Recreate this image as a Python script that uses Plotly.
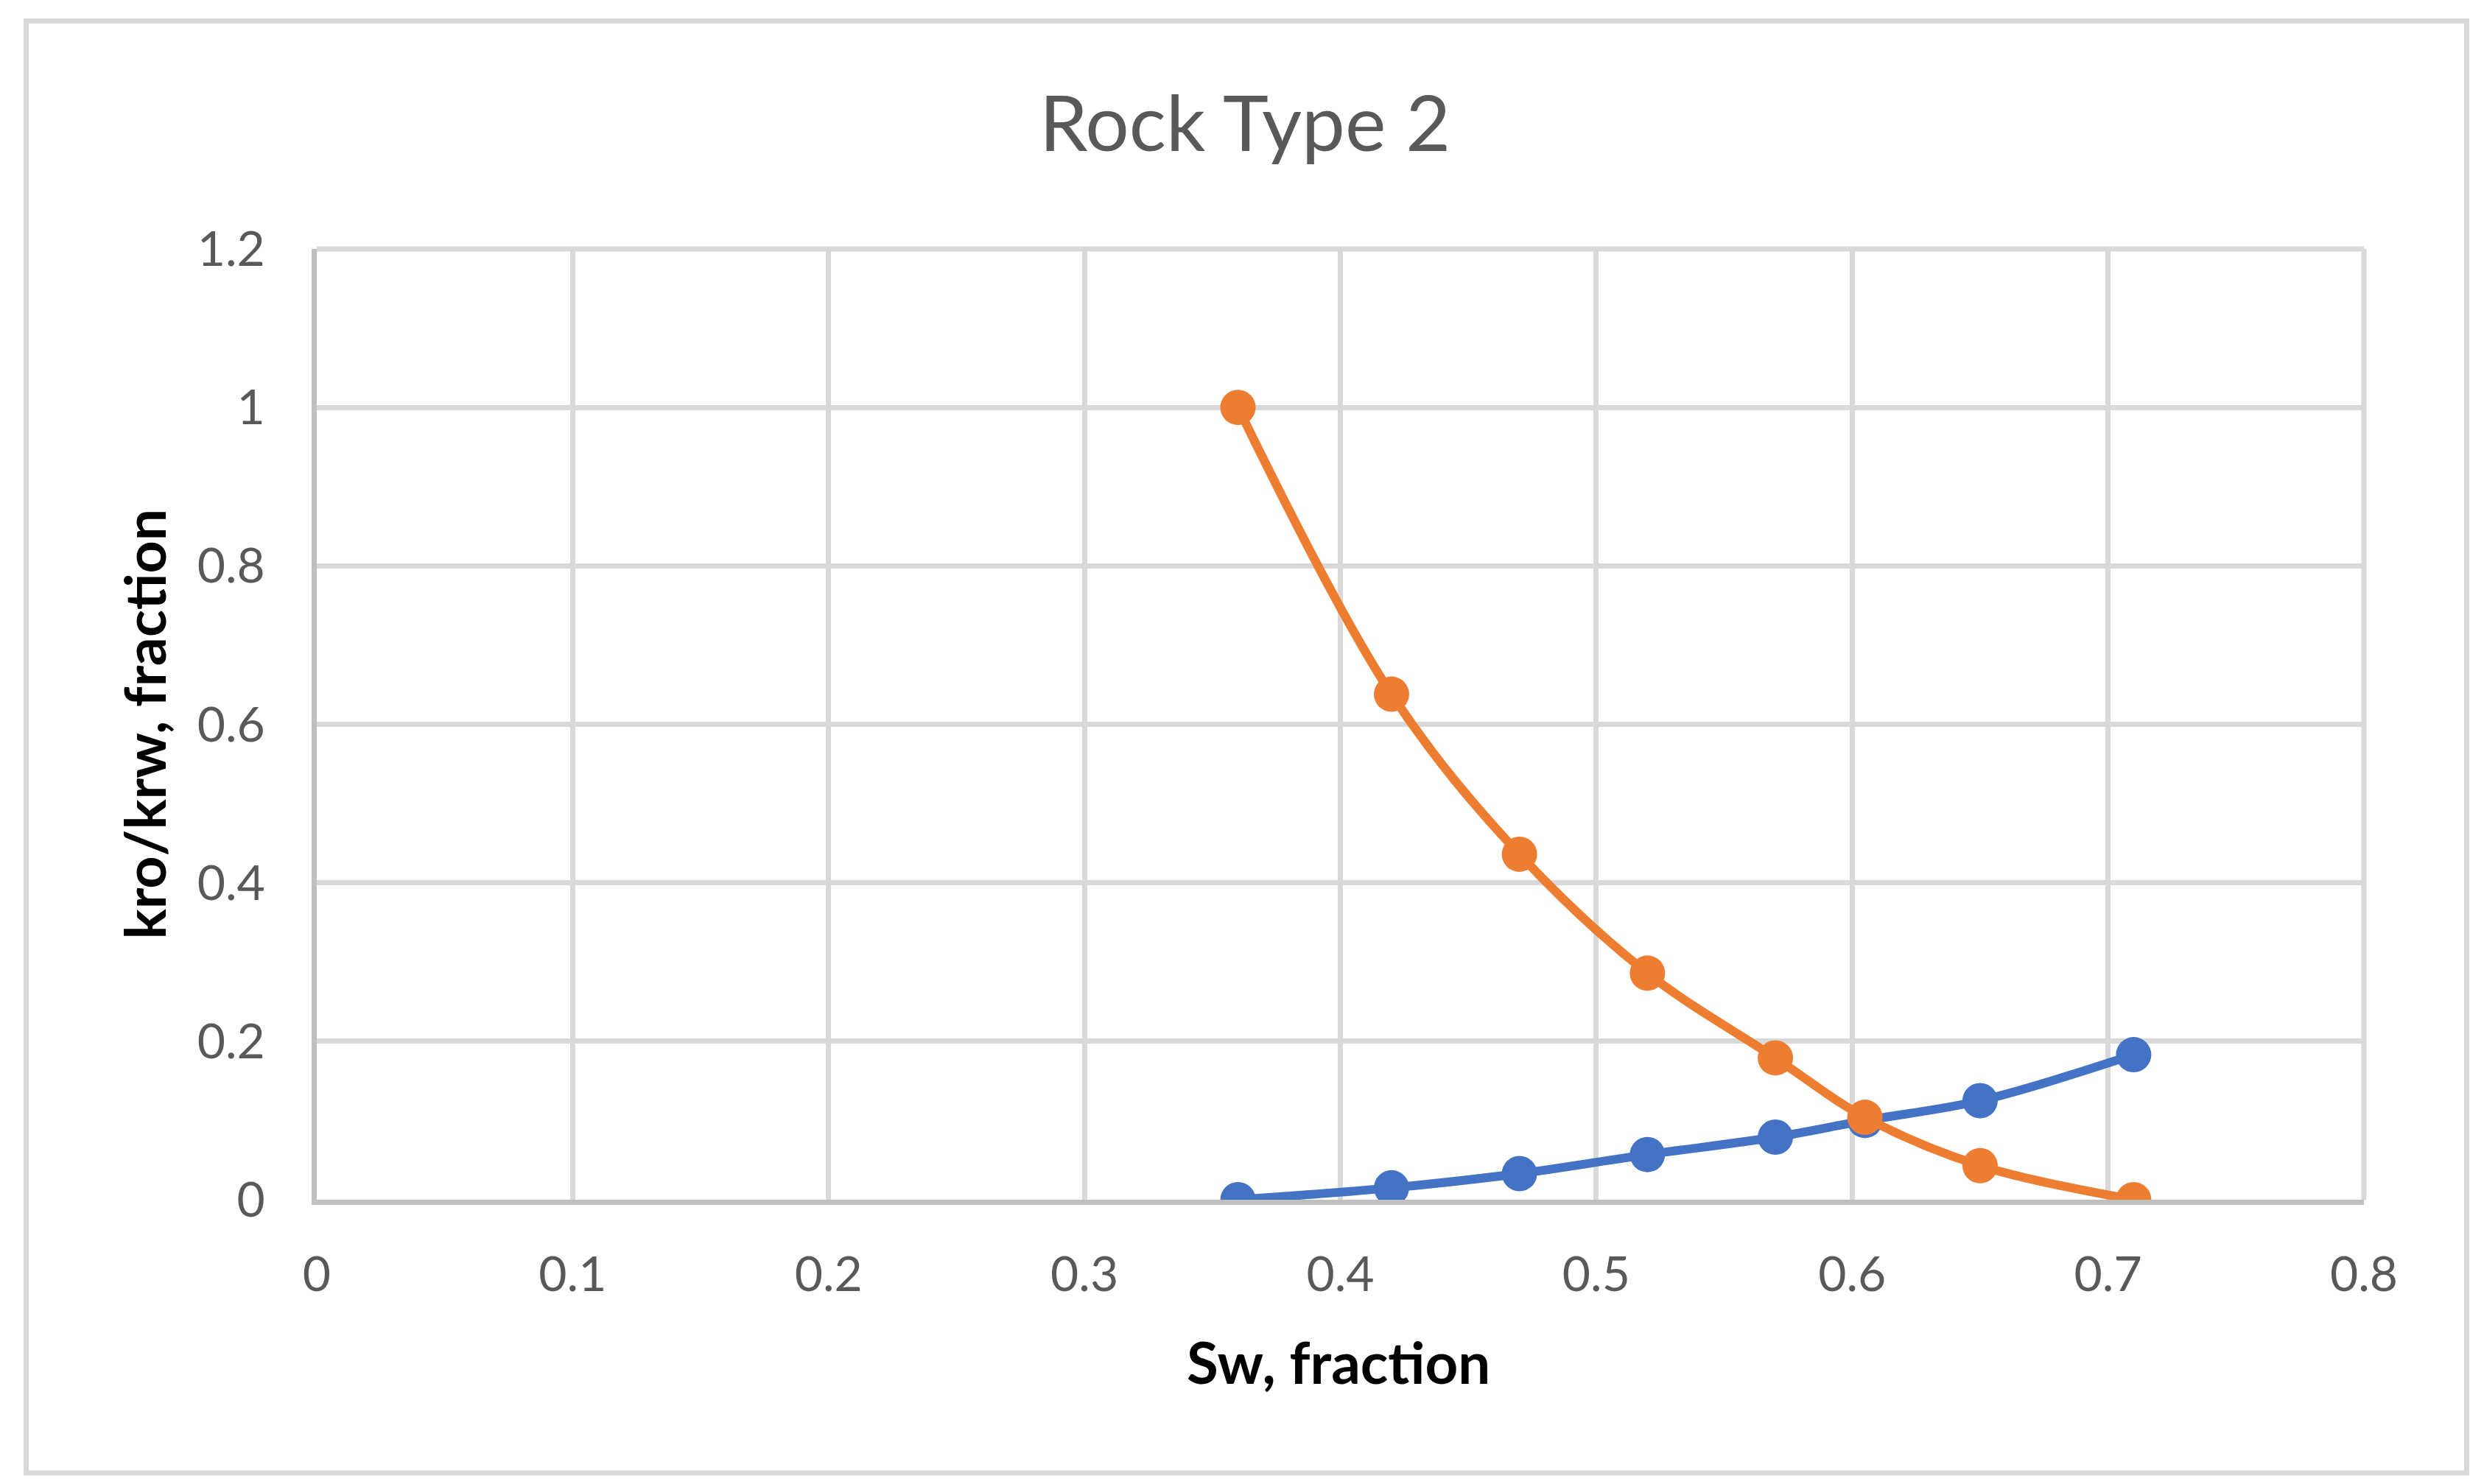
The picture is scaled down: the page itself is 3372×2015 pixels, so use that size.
import plotly.graph_objects as go

# Data
sw = [0.36, 0.42, 0.47, 0.52, 0.57, 0.605, 0.65, 0.71]
krw = [0.0, 0.015, 0.033, 0.057, 0.079, 0.100, 0.125, 0.183]
kro = [1.0, 0.638, 0.436, 0.286, 0.179, 0.104, 0.043, 0.0]

x_ticks = [0, 0.1, 0.2, 0.3, 0.4, 0.5, 0.6, 0.7, 0.8]
y_ticks = [0, 0.2, 0.4, 0.6, 0.8, 1, 1.2]

W, H = 3372, 2015
L, R, T, B = 430, 3372 - 3209, 338, 2015 - 1629

BLUE = "#4472C4"
ORANGE = "#ED7D31"
GRID = "#D9D9D9"
AXIS = "#BFBFBF"
TXT = "#595959"
FONT = "Lato"

fig = go.Figure()
fig.add_trace(go.Scatter(
    x=sw, y=krw, mode="lines+markers", name="krw",
    line=dict(color=BLUE, width=12, shape="spline"),
    marker=dict(color=BLUE, size=48, line=dict(width=0)),
))
fig.add_trace(go.Scatter(
    x=sw, y=kro, mode="lines+markers", name="kro",
    line=dict(color=ORANGE, width=12, shape="spline"),
    marker=dict(color=ORANGE, size=48, line=dict(width=0)),
))

pw = W - L - R
ph = H - T - B

fig.update_layout(
    width=W, height=H,
    margin=dict(l=L, r=R, t=T, b=B, pad=0),
    paper_bgcolor="white", plot_bgcolor="white",
    showlegend=False,
    font=dict(family=FONT, color=TXT),
    title=dict(text="Rock Type 2", x=1690 / W, xanchor="center",
               y=1 - 168 / H, yanchor="middle", yref="container",
               font=dict(family=FONT, size=105, color=TXT)),
    xaxis=dict(range=[0, 0.8], tickvals=x_ticks, ticktext=[f"{v:g}" for v in x_ticks],
               showgrid=True, gridcolor=GRID, gridwidth=7,
               showline=True, linecolor=AXIS, linewidth=7,
               zeroline=False, ticks="", ticklabelstandoff=38,
               tickfont=dict(family=FONT, size=66, color=TXT)),
    yaxis=dict(range=[0, 1.2], tickvals=y_ticks, ticktext=[f"{v:g}" for v in y_ticks],
               showgrid=True, gridcolor=GRID, gridwidth=7,
               showline=True, linecolor=AXIS, linewidth=7,
               zeroline=False, ticks="", ticklabelstandoff=50,
               tickfont=dict(family=FONT, size=66, color=TXT)),
    annotations=[
        dict(text="Sw, fraction", xref="paper", yref="paper",
             x=(1817 - L) / pw, y=-(1849 - (T + ph)) / ph,
             xanchor="center", yanchor="middle", showarrow=False,
             font=dict(family=FONT, size=78, color="black", weight="bold")),
        dict(text="kro/krw, fraction", xref="paper", yref="paper",
             x=(194 - L) / pw, y=0.5, textangle=-90,
             xanchor="center", yanchor="middle", showarrow=False,
             font=dict(family=FONT, size=77, color="black", weight="bold")),
    ],
    shapes=[
        dict(type="rect", xref="paper", yref="paper",
             x0=(35.5 - L) / pw, x1=(3348.5 - L) / pw,
             y0=-(2000 - (T + ph)) / ph, y1=1 + (T - 28.5) / ph,
             line=dict(color=GRID, width=7), fillcolor="rgba(0,0,0,0)", layer="below"),
        dict(type="line", xref="paper", yref="paper", x0=1, x1=1, y0=0, y1=1,
             line=dict(color=GRID, width=7), layer="below"),
        dict(type="line", xref="paper", yref="paper", x0=0, x1=1, y0=1, y1=1,
             line=dict(color=GRID, width=7), layer="below"),
    ],
)

fig.write_html("out.html",
               config={"displayModeBar": False},
               post_script="document.body.style.margin='0px';document.body.style.overflow='hidden';")
